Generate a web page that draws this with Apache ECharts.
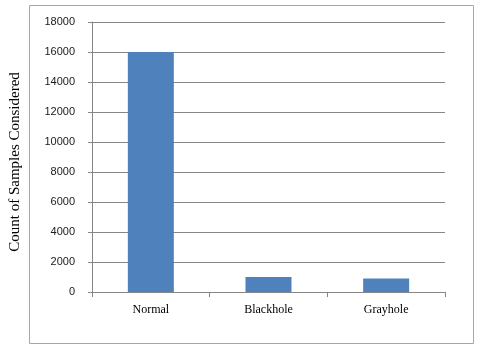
<!DOCTYPE html>
<html><head><meta charset="utf-8">
<script src="https://cdn.jsdelivr.net/npm/echarts@6/dist/echarts.min.js"></script>
<style>html,body{margin:0;padding:0;background:#fff}#c{width:480px;height:346px}</style>
</head><body><div id="c"></div>
<script>
const categories = ['Normal', 'Blackhole', 'Grayhole'];
const counts = [16000, 1000, 900];
const yTicks = [0, 2000, 4000, 6000, 8000, 10000, 12000, 14000, 16000, 18000];

const chart = echarts.init(document.getElementById('c'), null, {renderer: 'canvas'});
chart.setOption({
  animation: false,
  graphic: [{
    type: 'rect', shape: {x: 29.5, y: 5.5, width: 444, height: 338},
    style: {fill: 'none', stroke: '#a6a6a6', lineWidth: 1}, silent: true
  }],
  grid: {left: 91, right: 35, top: 22, bottom: 54},
  xAxis: {
    type: 'category', data: categories,
    axisLine: {lineStyle: {color: '#868686'}},
    axisTick: {show: true, length: 5, lineStyle: {color: '#868686'}},
    axisLabel: {fontFamily: 'Liberation Serif', fontSize: 12, color: '#000', margin: 12}
  },
  yAxis: {
    type: 'value', min: yTicks[0], max: yTicks[yTicks.length - 1], interval: 2000,
    name: 'Count of Samples Considered', nameLocation: 'middle', nameGap: 69,
    nameTextStyle: {fontFamily: 'Liberation Serif', fontSize: 15, color: '#000', padding: [0, 10, 0, 0]},
    axisLine: {show: true, lineStyle: {color: '#868686'}},
    axisTick: {show: true, length: 4, lineStyle: {color: '#868686'}},
    axisLabel: {fontFamily: 'Liberation Sans', fontSize: 11, color: '#1a1a1a', margin: 17,
      formatter: v => String(v)},
    splitLine: {lineStyle: {color: '#868686'}}
  },
  series: [{
    type: 'bar', data: counts, barWidth: 46,
    itemStyle: {color: '#4f81bd'}
  }]
});
</script></body></html>
